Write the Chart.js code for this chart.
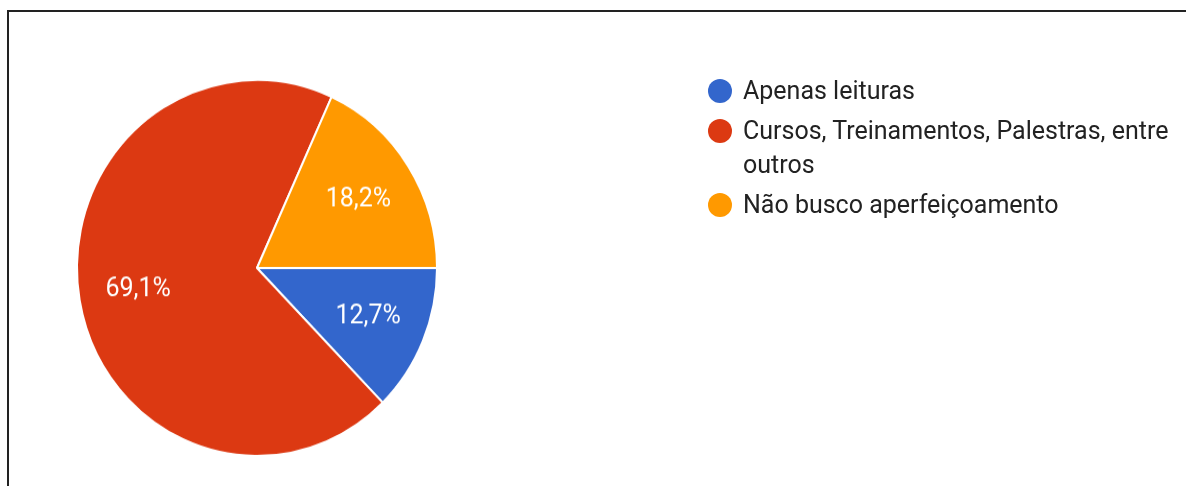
<!DOCTYPE html>
<html>
<head>
<meta charset="utf-8">
<script src="https://cdn.jsdelivr.net/npm/chart.js@4"></script>
<style>
    html, body { margin: 0; padding: 0; background: #fff; }
    #wrap { position: relative; width: 1186px; height: 486px; overflow: hidden; }
    #frame {
        position: absolute; left: 7px; top: 10px; right: -10px; bottom: -10px;
        border-top: 2px solid #222; border-left: 2px solid #222;
    }
    #chartBox { position: absolute; left: 0; top: 0; width: 1186px; height: 486px; }
    #pieChart { transform-origin: 257px 268px; transform: scale(1, 1.044); }
    #legend {
        position: absolute; left: 708px; top: 74px; width: 478px;
        font-family: Roboto, "Liberation Sans", Arial, sans-serif;
        font-size: 25px; color: #222; line-height: 34px;
    }
    .item { display: flex; align-items: flex-start; margin-bottom: 6px; }
    .dot { width: 24px; height: 24px; border-radius: 50%; flex: none; margin-top: 5px; margin-right: 11px; }
</style>
</head>
<body>
<div id="wrap">
    <div id="frame"></div>
    <div id="chartBox"><canvas id="pieChart" width="1186" height="486"></canvas></div>
    <div id="legend"></div>
</div>
<script>
const categories = ["Apenas leituras", "Cursos, Treinamentos, Palestras, entre outros", "Não busco aperfeiçoamento"];
const percentages = [12.7, 69.1, 18.2];
const sliceColors = ["#3366cc", "#dc3912", "#ff9900"];

// labels inside the slices
const sliceLabels = {
    id: "sliceLabels",
    afterDatasetsDraw(chart) {
        const ctx = chart.ctx;
        const meta = chart.getDatasetMeta(0);
        ctx.save();
        ctx.fillStyle = "#fff";
        ctx.font = "25px Roboto, 'Liberation Sans', Arial, sans-serif";
        ctx.textAlign = "center";
        ctx.textBaseline = "middle";
        meta.data.forEach((arc, i) => {
            const mid = (arc.startAngle + arc.endAngle) / 2;
            const r = arc.outerRadius * 0.67;
            const x = arc.x + Math.cos(mid) * r;
            const y = arc.y + Math.sin(mid) * r;
            const txt = percentages[i].toFixed(1).replace(".", ",") + "%";
            ctx.fillText(txt, x, y);
        });
        ctx.restore();
    }
};

const ctx = document.getElementById("pieChart").getContext("2d");
const pieChart = new Chart(ctx, {
    type: "pie",
    data: {
        labels: categories,
        datasets: [{
            data: percentages,
            backgroundColor: sliceColors,
            borderColor: "#fff",
            borderWidth: 2
        }]
    },
    options: {
        responsive: false,
        animation: false,
        rotation: 90,
        layout: { padding: { left: 76, right: 748, top: 87, bottom: 37 } },
        plugins: {
            legend: { display: false },
            tooltip: { enabled: false }
        }
    },
    plugins: [sliceLabels]
});

// html legend so the long label can wrap
const legendEl = document.getElementById("legend");
pieChart.data.labels.forEach((label, i) => {
    const item = document.createElement("div");
    item.className = "item";
    const dot = document.createElement("span");
    dot.className = "dot";
    dot.style.background = sliceColors[i];
    const text = document.createElement("span");
    text.textContent = label;
    item.appendChild(dot);
    item.appendChild(text);
    legendEl.appendChild(item);
});
</script>
</body>
</html>
